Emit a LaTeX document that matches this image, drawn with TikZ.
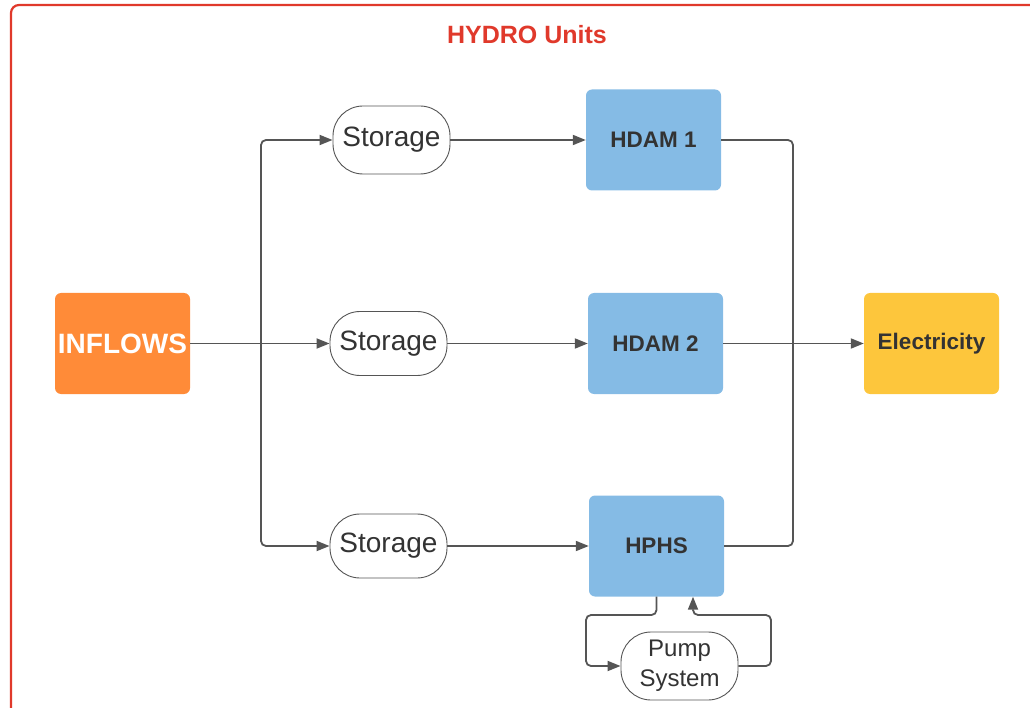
\documentclass[tikz,border=0pt]{standalone}
\usepackage{fontspec}
\setmainfont{Liberation Sans}
\usetikzlibrary{arrows.meta}
\definecolor{frame}{RGB}{224,57,43}
\definecolor{inflowfill}{RGB}{255,139,56}
\definecolor{unitfill}{RGB}{133,187,229}
\definecolor{elecfill}{RGB}{253,198,60}
\definecolor{wire}{RGB}{85,85,85}
\definecolor{ink}{RGB}{51,51,51}
\tikzset{
  box/.style={rectangle, rounded corners=6pt, minimum width=135pt, minimum height=101pt,
    inner sep=0pt, font=\fontsize{22.5}{26}\selectfont\bfseries, text=ink},
  tank/.style={rectangle, rounded corners=30pt, draw=wire, line width=0.9pt, fill=white,
    minimum width=117pt, minimum height=66pt, inner sep=0pt,
    font=\fontsize{28}{32}\selectfont, text=ink},
  link/.style={draw=wire, line width=1.8pt, rounded corners=5pt},
  flow/.style={link, -{Triangle[length=13pt,width=10pt]}}
}
\begin{document}
\begin{tikzpicture}[x=1pt,y=-1pt]
\useasboundingbox (0,0) rectangle (1030,708);
% outer frame
\draw[frame, line width=2.2pt, rounded corners=8pt] (1060,5) -- (11,5) -- (11,740);
\node (title) at (527,35) {\fontsize{25}{30}\selectfont\bfseries\color{frame}HYDRO Units};

% sources, storages, units, output
\node[box, fill=inflowfill, text=white, font=\fontsize{28}{32}\selectfont\bfseries] (inflows) at (122.5,343.5) {INFLOWS};
\node[tank, minimum height=68pt] (s1) at (391.5,140) {Storage};
\node[tank, minimum height=64pt] (s2) at (388.5,343.5) {Storage};
\node[tank, minimum height=64pt] (s3) at (388.5,546) {Storage};
\node[box, fill=unitfill] (h1) at (653.5,140) {HDAM 1};
\node[box, fill=unitfill] (h2) at (655.5,343.5) {HDAM 2};
\node[box, fill=unitfill] (h3) at (656.5,546) {HPHS};
\node[box, fill=elecfill] (elec) at (931.5,343.5) {Electricity};
\node[tank, minimum height=68pt, font=\fontsize{24}{30}\selectfont, align=center] (pump) at (679.5,666) {Pump\\System};

% junctions
\coordinate (split) at (261,343.5);
\coordinate (merge) at (793,343.5);
\coordinate (loopL) at (586,615);
\coordinate (loopR) at (771,615);
\coordinate (ret) at (693,0);

% inflows to storages
\draw[flow] (inflows.east) -- (s2.west);
\draw[flow] (split) |- (s1.west);
\draw[flow] (split) |- (s3.west);

% storages to units
\draw[flow] (s1.east) -- (h1.west);
\draw[flow] (s2.east) -- (h2.west);
\draw[flow] (s3.east) -- (h3.west);

% units to electricity
\draw[link] (h1.east) -| (merge);
\draw[link] (h3.east) -| (merge);
\draw[flow] (h2.east) -- (elec.west);

% pumping loop
\draw[flow] (h3.south) |- (loopL) |- (pump.west);
\draw[flow] (pump.east) -| (loopR) -| (h3.south -| ret);
\end{tikzpicture}
\end{document}
